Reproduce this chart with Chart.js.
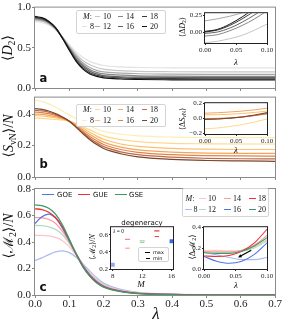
<!DOCTYPE html>
<html><head><meta charset="utf-8">
<script src="https://cdn.jsdelivr.net/npm/chart.js@4.4.1/dist/chart.umd.min.js"></script>
<style>
html,body{margin:0;padding:0;background:#fff;}
#wrap{position:relative;width:286px;height:324px;overflow:hidden;background:#fff;}
#wrap canvas{position:absolute;}
.t{position:absolute;white-space:nowrap;line-height:1;color:#111;}
.serif{font-family:"Liberation Serif","DejaVu Serif",serif;}
.sans{font-family:"DejaVu Sans",sans-serif;}
.box{position:absolute;border:1px solid #d4d4d4;border-radius:2px;background:rgba(255,255,255,0.9);box-sizing:border-box;}
.h{position:absolute;height:0;}
.sb{font-size:70%;vertical-align:-0.25em;}
</style></head><body><div id="wrap"></div>
<script>
// ---------------- DATA ----------------
const M_values = [8, 10, 12, 14, 16, 18, 20];
const lam = [0, 0.02, 0.04, 0.06, 0.08, 0.10, 0.12, 0.14, 0.16, 0.18, 0.20, 0.25, 0.30, 0.40, 0.50, 0.60, 0.70];

// panel a : <D2>
const d2_M8  = [0.830,0.815,0.785,0.725,0.640,0.540,0.450,0.380,0.330,0.300,0.280,0.262,0.255,0.250,0.250,0.250,0.250];
const d2_M10 = [0.845,0.830,0.795,0.730,0.630,0.520,0.420,0.340,0.290,0.255,0.235,0.215,0.207,0.202,0.200,0.200,0.200];
const d2_M12 = [0.855,0.840,0.805,0.735,0.630,0.510,0.400,0.310,0.255,0.220,0.200,0.185,0.177,0.172,0.170,0.170,0.170];
const d2_M14 = [0.865,0.850,0.812,0.740,0.628,0.500,0.380,0.290,0.230,0.195,0.175,0.160,0.152,0.147,0.145,0.145,0.145];
const d2_M16 = [0.873,0.858,0.818,0.745,0.625,0.490,0.360,0.270,0.210,0.175,0.155,0.140,0.135,0.131,0.130,0.130,0.130];
const d2_M18 = [0.880,0.865,0.824,0.748,0.620,0.480,0.345,0.250,0.190,0.158,0.140,0.125,0.120,0.116,0.115,0.115,0.115];
const d2_M20 = [0.890,0.875,0.830,0.750,0.618,0.470,0.330,0.235,0.175,0.145,0.127,0.112,0.106,0.102,0.100,0.100,0.100];

// panel b : <S_vN>/N
const s_M8  = [0.490,0.480,0.465,0.445,0.420,0.395,0.370,0.345,0.325,0.305,0.290,0.272,0.262,0.254,0.251,0.250,0.250];
const s_M10 = [0.375,0.373,0.370,0.366,0.362,0.355,0.340,0.320,0.300,0.280,0.262,0.238,0.225,0.214,0.211,0.210,0.210];
const s_M12 = [0.390,0.388,0.383,0.377,0.368,0.355,0.335,0.310,0.285,0.260,0.240,0.210,0.195,0.182,0.177,0.175,0.175];
const s_M14 = [0.400,0.398,0.392,0.384,0.372,0.355,0.330,0.300,0.270,0.245,0.222,0.190,0.172,0.158,0.152,0.150,0.150];
const s_M16 = [0.413,0.410,0.403,0.392,0.376,0.355,0.325,0.290,0.258,0.230,0.207,0.175,0.157,0.142,0.136,0.134,0.133];
const s_M18 = [0.424,0.420,0.412,0.398,0.379,0.355,0.320,0.282,0.247,0.217,0.193,0.160,0.142,0.126,0.119,0.116,0.115];
const s_M20 = [0.435,0.430,0.420,0.404,0.382,0.355,0.316,0.275,0.237,0.206,0.181,0.148,0.128,0.112,0.105,0.102,0.100];

// panel c : <M2>/N
const m_M8  = [0.260,0.280,0.305,0.325,0.333,0.320,0.285,0.235,0.180,0.130,0.090,0.042,0.020,0.006,0.002,0.0005,0];
const m_M10 = [0.450,0.450,0.447,0.435,0.410,0.365,0.300,0.230,0.165,0.115,0.078,0.035,0.016,0.005,0.002,0.0005,0];
const m_M12 = [0.525,0.523,0.515,0.495,0.455,0.390,0.310,0.230,0.160,0.110,0.074,0.033,0.015,0.005,0.002,0.0005,0];
const m_M14 = [0.585,0.583,0.570,0.540,0.480,0.400,0.310,0.225,0.155,0.105,0.070,0.031,0.014,0.0045,0.0015,0.0005,0];
const m_M16 = [0.540,0.590,0.610,0.580,0.505,0.410,0.310,0.220,0.150,0.100,0.066,0.029,0.013,0.004,0.0015,0.0005,0];
const m_M18 = [0.650,0.645,0.625,0.585,0.515,0.415,0.310,0.215,0.145,0.095,0.063,0.027,0.012,0.004,0.0015,0.0005,0];
const m_M20 = [0.680,0.675,0.655,0.610,0.530,0.420,0.310,0.210,0.140,0.090,0.060,0.025,0.011,0.003,0.001,0.0005,0];

// insets (lambda 0 .. 0.1)
const lamIn = [0, 0.02, 0.04, 0.06, 0.08, 0.10];
const dd_M10 = [-0.160,-0.140,-0.100,-0.050,0.030,0.120];
const dd_M12 = [0.170,0.200,0.240,0.290,0.340,0.400];
const dd_M14 = [-0.060,-0.040,0.020,0.100,0.200,0.320];
const dd_M16 = [-0.020,0.000,0.060,0.150,0.260,0.380];
const dd_M18 = [0.000,0.030,0.100,0.200,0.320,0.450];
const dd_M20 = [0.010,0.040,0.120,0.230,0.360,0.500];

const ds_M10 = [-0.135,-0.125,-0.105,-0.080,-0.045,-0.005];
const ds_M12 = [0.050,0.052,0.058,0.068,0.082,0.100];
const ds_M14 = [0.072,0.078,0.088,0.100,0.117,0.138];
const ds_M16 = [0.000,0.003,0.010,0.022,0.040,0.062];
const ds_M18 = [-0.008,-0.004,0.005,0.020,0.042,0.070];
const ds_M20 = [-0.012,-0.006,0.005,0.022,0.048,0.080];

const dm_M8  = [0.160,0.135,0.110,0.090,0.090,0.110];
const dm_M10 = [0.180,0.178,0.175,0.180,0.210,0.280];
const dm_M12 = [0.165,0.160,0.160,0.170,0.200,0.270];
const dm_M14 = [0.170,0.165,0.165,0.180,0.230,0.320];
const dm_M16 = [0.120,0.075,0.055,0.075,0.140,0.250];
const dm_M18 = [0.125,0.120,0.130,0.170,0.250,0.380];
const dm_M20 = [0.155,0.150,0.150,0.170,0.220,0.300];
const arrowTail = [0.075, 0.180];
const arrowHead = [0.054, 0.110];

// degeneracy inset
const degSingleM = [8, 16];
const degSingleV = [0.250, 0.525];
const degM = [10, 12, 14];
const degMax = [0.548, 0.530, 0.648];
const degMin = [0.444, 0.510, 0.580];

// ticks
const xTicksMain = [0,0.1,0.2,0.3,0.4,0.5,0.6,0.7];
const yTicksA = [0, 0.5, 1.0];
const yTicksB = [0, 0.2, 0.4];
const yTicksC = [0, 0.2, 0.4, 0.6, 0.8];
const xTicksIn = [0, 0.05, 0.10];
const yTicksDD = [0, 0.25];
const yTicksDS = [-0.2, 0, 0.2];
const yTicksDM = [0, 0.2, 0.4];
const xTicksDeg = [8, 12, 16];
const yTicksDeg = [0.2, 0.4, 0.6];

// ---------------- STYLE ----------------
const greys  = ['#e2e2e2','#c6c6c6','#a8a8a8','#878787','#636363','#3d3d3d','#111111'];
const oranges= ['#fdeeb3','#fdd98e','#fcc170','#f5a35c','#e08446','#b96b4c','#7d4427'];
const ensCol = ['#aabcf2','#ffc4c4','#b5dcc2','#ff9c9c','#4a77e8','#f23030','#3a9a6a'];

const wrap = document.getElementById('wrap');
function addCanvas(l,t,w,h){const c=document.createElement('canvas');c.width=w;c.height=h;
  Object.assign(c.style,{left:l+'px',top:t+'px',width:w+'px',height:h+'px'});wrap.appendChild(c);return c;}
function txt(html,x,y,cls,size,o={}){const d=document.createElement('div');d.className='t '+cls;d.innerHTML=html;
  d.style.fontSize=size+'px';d.style.left=x+'px';d.style.top=y+'px';
  let tr=o.left?'translate(0,-50%)':'translate(-50%,-50%)';if(o.rot)tr+=' rotate(-90deg)';d.style.transform=tr;
  if(o.italic)d.style.fontStyle='italic';if(o.bold)d.style.fontWeight='bold';wrap.appendChild(d);return d;}
function hline(x,y,len,color,w){const d=document.createElement('div');d.className='h';
  Object.assign(d.style,{left:x+'px',top:(y-w/2)+'px',width:len+'px',borderTop:w+'px solid '+color});wrap.appendChild(d);}
function box(l,t,w,h){const d=document.createElement('div');d.className='box';
  Object.assign(d.style,{left:l+'px',top:t+'px',width:w+'px',height:h+'px'});wrap.appendChild(d);}

const framePlugin={id:'frame',
  beforeDraw(ch,a,o){if(o.fill){const c=ch.chartArea,x=ch.ctx;x.save();x.fillStyle=o.fill;x.fillRect(c.left,c.top,c.right-c.left,c.bottom-c.top);x.restore();}},
  afterDraw(ch,a,o){const c=ch.chartArea,x=ch.ctx;x.save();x.strokeStyle=o.color||'#000';x.lineWidth=o.width||1;
    x.strokeRect(c.left-0.5,c.top-0.5,c.right-c.left+1,c.bottom-c.top+1);x.restore();}};
Chart.register(framePlugin);

function axis(s,which,size){return{type:'linear',position:which==='x'?'bottom':'left',min:s.min,max:s.max,
  afterFit(sc){if(which==='x')sc.height=size;else sc.width=size;},
  afterBuildTicks(sc){sc.ticks=s.ticks.map(v=>({value:v}));},
  ticks:{display:s.labels!==false,callback:s.fmt,font:{family:'Liberation Serif',size:s.size||11},color:'#222',
    padding:s.pad??1,maxRotation:0,minRotation:0,autoSkip:false},
  grid:{display:true,drawOnChartArea:false,drawTicks:true,tickLength:s.tl??3,color:s.tc||'#888',lineWidth:1},
  border:{display:false}};}

function makeChart(cv,pl,datasets,xs,ys,frame,plugins=[]){
  const cl=parseFloat(cv.style.left),ct=parseFloat(cv.style.top);
  return new Chart(cv,{type:'line',data:{datasets},
    options:{responsive:false,animation:false,devicePixelRatio:1,
      layout:{padding:{top:pl.t-ct,right:cl+cv.width-pl.r,left:0,bottom:0}},
      plugins:{legend:{display:false},tooltip:{enabled:false},frame},
      elements:{point:{radius:0},line:{cubicInterpolationMode:'monotone'}},
      scales:{x:axis(xs,'x',ct+cv.height-pl.b),y:axis(ys,'y',pl.l-cl)}},plugins});}

function series(xs,ys,color,w,order){return{data:xs.map((x,i)=>({x,y:ys[i]})),borderColor:color,borderWidth:w,
  pointRadius:0,fill:false,order};}
const fmt1=v=>(v<0?'\u2212':'')+Math.abs(v).toFixed(1);
const fmt2=v=>(v<0?'\u2212':'')+Math.abs(v).toFixed(2);
const fmt0=v=>String(v);

// ---------------- MAIN PANELS ----------------
const setA=[d2_M8,d2_M10,d2_M12,d2_M14,d2_M16,d2_M18,d2_M20];
const setB=[s_M8,s_M10,s_M12,s_M14,s_M16,s_M18,s_M20];
const setC=[m_M8,m_M10,m_M12,m_M14,m_M16,m_M18,m_M20];

makeChart(addCanvas(0,0,286,96),{l:35,t:6,r:275,b:88},
  setA.map((s,i)=>series(lam,s,greys[i],1.2,20-i)),
  {min:0,max:0.7,ticks:xTicksMain,labels:false},
  {min:0,max:1.0,ticks:yTicksA,fmt:fmt1,size:11},{color:'#8a8a8a'});

makeChart(addCanvas(0,90,286,96),{l:35,t:97,r:275,b:177},
  setB.map((s,i)=>series(lam,s,oranges[i],1.2,20-i)),
  {min:0,max:0.7,ticks:xTicksMain,labels:false},
  {min:0,max:0.505,ticks:yTicksB,fmt:fmt1,size:11},{color:'#8a8a8a'});

makeChart(addCanvas(0,180,286,144),{l:35,t:189,r:275,b:295},
  setC.map((s,i)=>series(lam,s,ensCol[i],1.3,20-i)),
  {min:0,max:0.7,ticks:xTicksMain,fmt:fmt1,size:11,pad:0},
  {min:0,max:0.8,ticks:yTicksC,fmt:fmt1,size:11},{color:'#8a8a8a'});

// ---------------- INSETS ----------------
const inX={min:0,max:0.1,ticks:xTicksIn,fmt:fmt2,size:7,tl:2,tc:'#222',pad:1};
makeChart(addCanvas(186,8,92,50),{l:205,t:13,r:267,b:43},
  [dd_M10,dd_M12,dd_M14,dd_M16,dd_M18,dd_M20].map((s,i)=>series(lamIn,s,greys[i+1],1,20-i)),
  inX,{min:-0.166,max:0.286,ticks:yTicksDD,fmt:fmt2,size:7,tl:2,tc:'#222',pad:1},{color:'#222',fill:'#fff'});

makeChart(addCanvas(186,98,92,48),{l:205,t:103,r:267,b:134},
  [ds_M10,ds_M12,ds_M14,ds_M16,ds_M18,ds_M20].map((s,i)=>series(lamIn,s,oranges[i+1],1,20-i)),
  inX,{min:-0.205,max:0.205,ticks:yTicksDS,fmt:fmt1,size:7,tl:2,tc:'#222',pad:1},{color:'#222',fill:'#fff'});

const arrowPlugin={id:'arrow',afterDatasetsDraw(ch){const xs=ch.scales.x,ys=ch.scales.y,c=ch.ctx;
  const x0=xs.getPixelForValue(arrowTail[0]),y0=ys.getPixelForValue(arrowTail[1]);
  const x1=xs.getPixelForValue(arrowHead[0]),y1=ys.getPixelForValue(arrowHead[1]);
  const a=Math.atan2(y1-y0,x1-x0),L=4;c.save();c.strokeStyle='#000';c.fillStyle='#000';c.lineWidth=1.2;
  c.beginPath();c.moveTo(x0,y0);c.lineTo(x1-Math.cos(a)*2,y1-Math.sin(a)*2);c.stroke();
  c.beginPath();c.moveTo(x1,y1);c.lineTo(x1-L*Math.cos(a-0.45),y1-L*Math.sin(a-0.45));
  c.lineTo(x1-L*Math.cos(a+0.45),y1-L*Math.sin(a+0.45));c.closePath();c.fill();c.restore();}};
makeChart(addCanvas(186,222,92,58),{l:204,t:227,r:267,b:269},
  [dm_M8,dm_M10,dm_M12,dm_M14,dm_M16,dm_M18,dm_M20].map((s,i)=>series(lamIn,s,ensCol[i],1.1,20-i)),
  inX,{min:0,max:0.4,ticks:yTicksDM,fmt:fmt1,size:7,tl:2,tc:'#222',pad:1},{color:'#222',fill:'#fff'},[arrowPlugin]);

// degeneracy
const degColSingle=['#8fa8f0','#3a6ae8'];
const degColPair=['#f58a8a','#9fd0b0','#ee3b3b'];
makeChart(addCanvas(96,222,86,58),{l:111,t:227,r:173,b:269},
  [{data:degSingleM.map((m,i)=>({x:m,y:degSingleV[i]})),showLine:false,pointStyle:'rect',pointRadius:2.4,
    pointBackgroundColor:degColSingle,pointBorderColor:degColSingle,pointBorderWidth:0.5},
   {data:degM.map((m,i)=>({x:m,y:degMax[i]})),showLine:false,pointStyle:'line',pointRadius:2.6,
    pointBorderColor:degColPair,pointBorderWidth:1.2},
   {data:degM.map((m,i)=>({x:m,y:degMin[i]})),showLine:false,pointStyle:'line',pointRadius:2.2,
    pointBorderColor:degColPair,pointBorderWidth:1}],
  {min:7.75,max:16.2,ticks:xTicksDeg,fmt:fmt0,size:7,tl:2,tc:'#222',pad:1},
  {min:0.2,max:0.69,ticks:yTicksDeg,fmt:fmt1,size:7,tl:2,tc:'#222',pad:1},{color:'#222',fill:'#fff'});

// ---------------- TEXT & LEGENDS ----------------
txt('\u27E8<i>D</i><span class="sb">2</span>\u27E9',9,48,'serif',14,{rot:true});
txt('\u27E8<i>S</i><span class="sb">vN</span>\u27E9/<i>N</i>',10,136,'serif',14,{rot:true});
txt('\u27E8\u2133<span class="sb">2</span>\u27E9/<i>N</i>',10,236,'serif',14,{rot:true});
txt('\u03BB',156,313,'serif',17,{italic:true});
txt('a',39.5,79,'sans',11.5,{left:true,bold:true});
txt('b',39.5,164.5,'sans',11.5,{left:true,bold:true});
txt('c',39.5,287,'sans',12,{left:true,bold:true});

txt('\u27E8\u0394<i>D</i><span class="sb">2</span>\u27E9',183,27,'serif',8,{rot:true});
txt('\u27E8\u0394<i>S</i><span class="sb">vN</span>\u27E9',183,119,'serif',8,{rot:true});
txt('\u27E8\u0394\u2133<span class="sb">2</span>\u27E9',193,247,'serif',8.5,{rot:true});
txt('\u27E8\u2133<span class="sb">2</span>\u27E9/<i>N</i>',93,247,'serif',8,{rot:true});
txt('\u03BB',236,61.5,'serif',9,{italic:true});
txt('\u03BB',236,150,'serif',9,{italic:true});
txt('\u03BB',236,285,'serif',9,{italic:true});
txt('<i>M</i>',141,284,'serif',9);
txt('degeneracy',142,222.5,'sans',7);
txt('<i>\u03BB</i> = 0',113,231.5,'serif',5.5,{left:true});
box(138,246.5,31,15.5);
hline(145,252.3,5,'#000',1.2);txt('max',153,252.3,'sans',5,{left:true});
hline(145.5,258.3,4,'#000',1);txt('min',153,258.3,'sans',5,{left:true});

function mLegend(b,rowY,colX,colors,hl,tx,fs){
  box(b[0],b[1],b[2],b[3]);
  txt('<i>M</i>:',colX[0]+1,rowY[0],'serif',fs,{left:true});
  const pos=[[1,0],[0,1],[1,1],[0,2],[1,2],[0,3],[1,3]];
  M_values.forEach((m,i)=>{const [r,c]=pos[i];hline(colX[c],rowY[r],hl,colors[i],1.4);
    txt(String(m),colX[c]+tx,rowY[r],'serif',fs,{left:true});});}
mLegend([76,10,90,24],[16.5,27],[82,95,118,142],greys,5,8,8);
mLegend([76,104,90,23],[110,120.5],[82,95,118,142],oranges,5,8,8);
mLegend([182,188,87,29],[199,209.5],[184.5,199,224,249],ensCol,7,9,8);

hline(41.5,194.5,12,ensCol[4],1.4);txt('GOE',57,194.5,'sans',7,{left:true});
hline(78,194.5,12,ensCol[5],1.4);txt('GUE',93,194.5,'sans',7,{left:true});
hline(115,194.5,12,ensCol[6],1.4);txt('GSE',129,194.5,'sans',7,{left:true});
</script></body></html>
